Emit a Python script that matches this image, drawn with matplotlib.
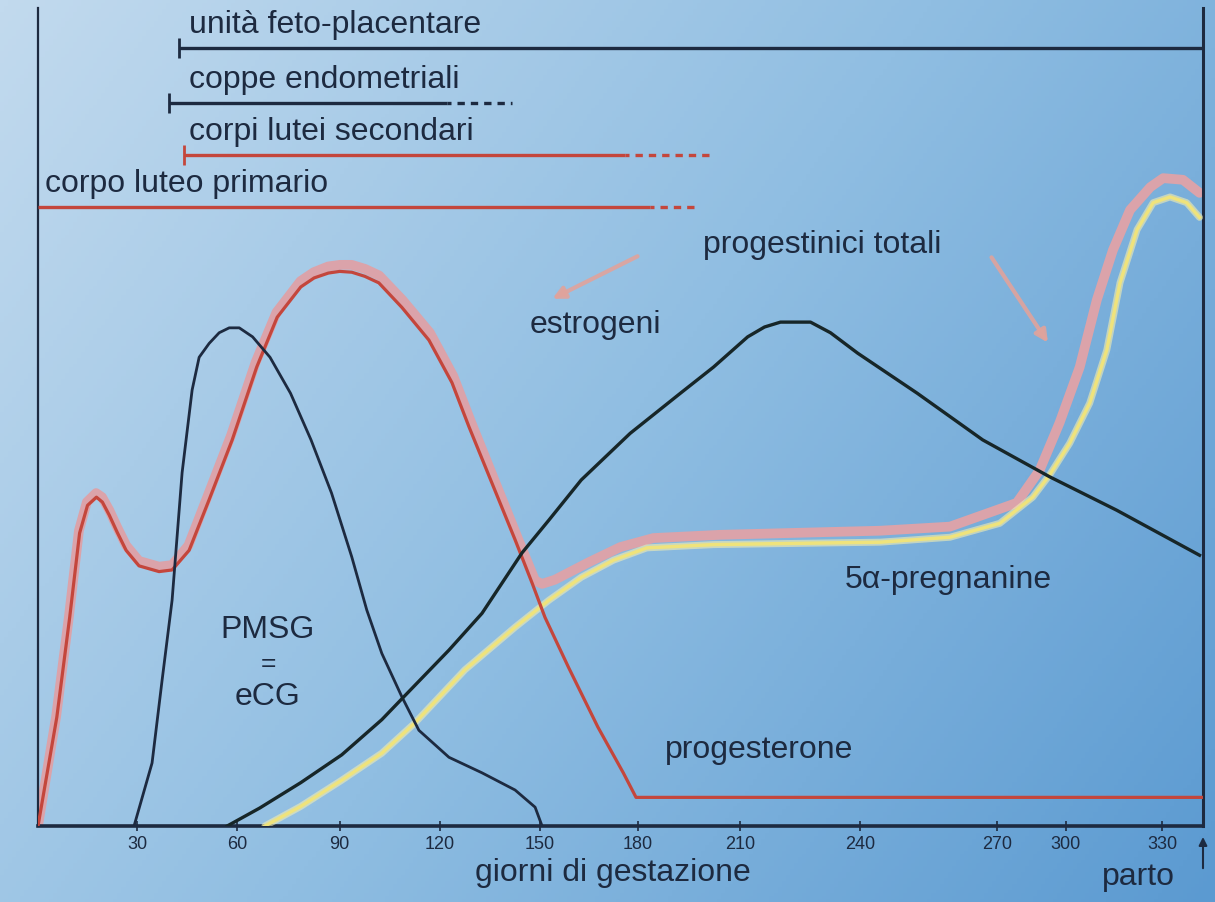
import numpy as np
import matplotlib
matplotlib.use("Agg")
import matplotlib.pyplot as plt
from matplotlib.colors import LinearSegmentedColormap

# =========================
# dati (giorni, livello relativo 0-100)
# =========================
pmsg_giorni = [29.1, 34.5, 37.5, 40.5, 43.5, 46.5, 48.6, 51.6, 54.6, 57.6, 60.6, 64.5,
               69.6, 75.6, 81.6, 87.6, 93.6, 98.1, 102.6, 108.6, 113.7, 122.7, 132.6,
               142.5, 148.5, 150.6]
pmsg_liv = [0, 7.7, 17.8, 27.6, 43.2, 53.3, 57.3, 59.0, 60.3, 60.9, 60.9, 59.8,
            57.3, 52.9, 47.2, 40.7, 32.9, 26.4, 21.1, 15.8, 11.7, 8.4, 6.5,
            4.4, 2.3, 0]

estrogeni_giorni = [57.0, 66.6, 78.6, 90.6, 102.6, 109.2, 122.7, 132.6, 144.6, 152.7,
                    162.6, 177.6, 192.4, 202.1, 211.8, 216.0, 220.0, 227.5, 232.5,
                    239.3, 252.5, 266.9, 293.0, 315.9, 341.9]
estrogeni_liv = [0, 2.2, 5.3, 8.7, 13.0, 15.8, 21.5, 26.0, 33.4, 37.4,
                 42.3, 48.0, 52.9, 56.1, 59.8, 61.0, 61.6, 61.6, 60.3,
                 57.8, 52.9, 47.2, 42.7, 38.6, 33.1]

progesterone_giorni = [0, 5.7, 9.6, 12.6, 15.0, 17.7, 19.5, 21.6, 24.0, 26.7, 30.6,
                       36.6, 40.5, 45.6, 51.6, 58.5, 65.7, 71.7, 78.6, 82.5, 86.7,
                       90.0, 93.6, 97.5, 101.7, 108.6, 116.7, 123.6, 128.7, 135.6,
                       142.5, 147.6, 151.5, 158.7, 167.7, 175.5, 179.4, 343.0]
progesterone_liv = [0, 13.3, 25.5, 35.8, 39.2, 40.2, 39.6, 38.0, 35.9, 33.7, 31.8,
                    31.1, 31.3, 33.7, 39.9, 47.2, 56.1, 62.2, 65.9, 67.0, 67.6,
                    67.8, 67.7, 67.2, 66.4, 63.4, 59.4, 54.2, 48.8, 41.9,
                    35.0, 29.7, 25.5, 19.4, 12.1, 6.5, 3.5, 3.5]

progestinici_giorni = [0, 5.5, 9.4, 12.4, 14.8, 17.6, 19.4, 21.6, 24.0, 26.7, 30.6,
                       36.6, 40.5, 45.4, 51.3, 58.2, 65.4, 71.5, 78.5, 82.4, 86.6,
                       90.0, 93.6, 97.6, 101.8, 108.8, 117.0, 124.0, 129.2, 136.2,
                       143.2, 148.5, 150.6, 154.5, 164.7, 174.6, 184.5, 204.1, 244.4,
                       259.7, 278.7, 288.7, 297.4, 304.4, 309.7, 314.7, 320.0, 326.3,
                       330.3, 336.6, 341.9]
progestinici_liv = [0, 13.4, 25.7, 36.1, 39.6, 40.7, 40.2, 38.6, 36.5, 34.3, 32.4,
                    31.7, 31.9, 34.3, 40.5, 47.8, 56.7, 62.8, 66.6, 67.7, 68.4,
                    68.6, 68.6, 68.1, 67.3, 64.3, 60.3, 55.0, 49.5, 42.4,
                    35.3, 30.0, 29.6, 30.1, 32.2, 34.1, 35.2, 35.6, 36.1,
                    36.6, 39.5, 43.5, 49.3, 56.1, 64.3, 70.4, 75.3, 78.1,
                    79.2, 79.0, 77.4]

pregnanine_giorni = [68.1, 78.6, 90.6, 102.6, 112.5, 127.5, 142.5, 152.7, 162.6, 172.5,
                     182.6, 202.1, 244.4, 259.7, 271.3, 285.7, 293.0, 301.3, 307.5,
                     312.8, 316.9, 322.2, 327.2, 332.5, 337.8, 341.9]
pregnanine_liv = [0, 2.4, 5.6, 8.9, 12.6, 19.1, 24.3, 27.6, 30.4, 32.5,
                  34.0, 34.4, 34.7, 35.3, 37.0, 40.2, 42.9, 46.8, 51.7,
                  58.2, 66.4, 72.9, 76.2, 76.9, 76.2, 74.4]

# barre in alto: nome, inizio, fine continua, fine tratteggiata
barre_nomi = ["unità feto-placentare", "coppe endometriali",
              "corpi lutei secondari", "corpo luteo primario"]
barre_inizio = [42.6, 39.6, 44.1, 0]
barre_fine = [343, 122.1, 176.1, 183.5]
barre_fine_tratt = [343, 141.6, 201.2, 197.4]

tick_giorni = [30, 60, 90, 120, 150, 180, 210, 240, 270, 300, 330]

# scala x non lineare come nel disegno originale
scala_giorni = [0, 30, 60, 90, 120, 150, 180, 210, 240, 270, 300, 330, 343]
scala_pos = [0, 0.085, 0.171, 0.259, 0.345, 0.431, 0.515, 0.603, 0.706, 0.823,
             0.882, 0.965, 1.0]

blu_scuro = "#1d2a40"
rosso = "#c4463c"
rosa = "#dba3aa"
giallo = "#efe37c"

plt.rcParams['font.family'] = ['Liberation Sans', 'DejaVu Sans']

fig = plt.figure(figsize=(12.15, 9.02), dpi=100)

# =========================
# sfondo sfumato
# =========================
bg = fig.add_axes([0, 0, 1, 1], zorder=-10)
gx, gy = np.meshgrid(np.linspace(0, 1, 300), np.linspace(0, 1, 300))
grad = 0.65 * gx + 0.35 * gy
cmap_bg = LinearSegmentedColormap.from_list("bg", ["#c2daee", "#90bee2", "#5b9ad1"])
bg.imshow(grad, cmap=cmap_bg, aspect="auto", extent=[0, 1, 0, 1], origin="upper")
bg.axis("off")

ax = fig.add_axes([38 / 1215, 1 - 826 / 902, 1165 / 1215, 818 / 902])
ax.set_facecolor("none")

ax.set_xscale(
    "function",
    functions=(lambda x: np.interp(x, scala_giorni, scala_pos),
               lambda p: np.interp(p, scala_pos, scala_giorni))
)
ax.set_xlim(0, 343)
ax.set_ylim(0, 100)

# =========================
# curve
# =========================
ax.plot(progestinici_giorni, progestinici_liv, color=rosa, lw=7,
        solid_capstyle="round", solid_joinstyle="round", zorder=2)
ax.plot(pregnanine_giorni, pregnanine_liv, color="#f4eeb0", lw=5,
        solid_capstyle="round", solid_joinstyle="round", alpha=0.6, zorder=3)
ax.plot(pregnanine_giorni, pregnanine_liv, color=giallo, lw=2.5,
        solid_joinstyle="round", zorder=3)
ax.plot(progesterone_giorni, progesterone_liv, color=rosso, lw=2.3,
        solid_joinstyle="round", zorder=4)
ax.plot(pmsg_giorni, pmsg_liv, color=blu_scuro, lw=2,
        solid_joinstyle="round", zorder=5)
ax.plot(estrogeni_giorni, estrogeni_liv, color="#172628", lw=2.4,
        solid_joinstyle="round", zorder=5)

# =========================
# barre in alto
# =========================
barre_y = [95.1, 88.4, 82.0, 75.7]
barre_col = [blu_scuro, blu_scuro, rosso, rosso]
testo_x = [45.6, 45.6, 45.6, 2.1]
for i in range(len(barre_nomi)):
    y = barre_y[i]
    ax.plot([barre_inizio[i], barre_fine[i]], [y, y], color=barre_col[i], lw=2.4,
            solid_capstyle="butt", zorder=4)
    if barre_fine_tratt[i] > barre_fine[i]:
        ax.plot([barre_fine[i], barre_fine_tratt[i]], [y, y], color=barre_col[i],
                lw=2.4, linestyle=(1, (2.2, 1.8)), zorder=4)
    if barre_inizio[i] > 0:
        ax.plot([barre_inizio[i]], [y], marker="|", ms=14, mew=2,
                color=barre_col[i], zorder=4)
    ax.text(testo_x[i], y + 1.0, barre_nomi[i], fontsize=23, color=blu_scuro,
            ha="left", va="bottom")

# =========================
# etichette
# =========================
ax.text(199, 71.0, "progestinici totali", fontsize=23, color=blu_scuro, va="center")
ax.text(147, 61.2, "estrogeni", fontsize=23, color=blu_scuro, va="center")
ax.text(236, 30.1, "5α-pregnanine", fontsize=23, color=blu_scuro, va="center")
ax.text(188, 9.3, "progesterone", fontsize=23, color=blu_scuro, va="center")
ax.text(69, 24.0, "PMSG", fontsize=23, color=blu_scuro, ha="center", va="center")
ax.text(69, 19.8, "=", fontsize=19, color=blu_scuro, ha="center", va="center")
ax.text(69, 15.8, "eCG", fontsize=23, color=blu_scuro, ha="center", va="center")

ax.annotate("", xy=(153, 64.3), xytext=(180.6, 69.8),
            arrowprops=dict(arrowstyle="-|>", color="#e0a39c", lw=3,
                            mutation_scale=18, alpha=0.9))
ax.annotate("", xy=(293, 58.8), xytext=(268.5, 69.8),
            arrowprops=dict(arrowstyle="-|>", color="#e0a39c", lw=3,
                            mutation_scale=18, alpha=0.9))

# =========================
# assi
# =========================
ax.set_xticks(tick_giorni)
ax.set_xticklabels([str(t) for t in tick_giorni])
ax.set_yticks([])
ax.tick_params(axis="x", direction="inout", length=7, width=1.2, colors=blu_scuro,
               labelsize=13, pad=4)
ax.spines["top"].set_visible(False)
ax.spines["bottom"].set_linewidth(2.6)
ax.spines["bottom"].set_color(blu_scuro)
ax.spines["left"].set_linewidth(1.6)
ax.spines["left"].set_color(blu_scuro)
ax.spines["right"].set_linewidth(2.2)
ax.spines["right"].set_color(blu_scuro)

fig.text(613 / 1215, 1 - 873 / 902, "giorni di gestazione", fontsize=23,
         color=blu_scuro, ha="center", va="center")
fig.text(1138 / 1215, 1 - 877 / 902, "parto", fontsize=23,
         color=blu_scuro, ha="center", va="center")
ax.annotate("", xy=(343, -1.0), xytext=(343, -5.5), annotation_clip=False,
            arrowprops=dict(arrowstyle="-|>", color=blu_scuro, lw=1.5,
                            mutation_scale=12))

plt.savefig("out.png", dpi=100)
plt.close()
